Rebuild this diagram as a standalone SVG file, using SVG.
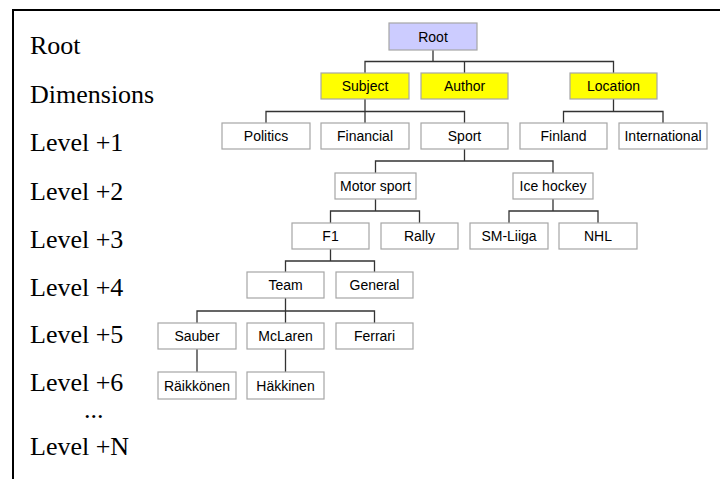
<svg xmlns="http://www.w3.org/2000/svg" width="720" height="479" viewBox="0 0 720 479">
  <style>
    .frame { fill: none; stroke: #000; stroke-width: 2; }
    .lvl { font-family: "Liberation Serif", "Times New Roman", serif; font-size: 26px; fill: #000; }
    .box { fill: #fff; stroke: #a6a6a6; stroke-width: 1.2; }
    .root { fill: #ccccff; }
    .dim { fill: #ffff00; }
    .lbl { font-family: "Liberation Sans", Arial, sans-serif; font-size: 14px; fill: #000; text-anchor: middle; }
    .links path { fill: none; stroke: #333; stroke-width: 1.3; }
  </style>
  <rect width="720" height="479" fill="#fff"/>
  <rect class="frame" x="13" y="10" width="720" height="480"/>

  <!-- level captions -->
  <g id="levels">
    <text class="lvl" x="30" y="54">Root</text>
    <text class="lvl" x="30" y="102.5">Dimensions</text>
    <text class="lvl" x="30" y="151">Level +1</text>
    <text class="lvl" x="30" y="199.5">Level +2</text>
    <text class="lvl" x="30" y="247.5">Level +3</text>
    <text class="lvl" x="30" y="295.5">Level +4</text>
    <text class="lvl" x="30" y="343">Level +5</text>
    <text class="lvl" x="30" y="391">Level +6</text>
    <text class="lvl" x="84" y="418">...</text>
    <text class="lvl" x="30" y="455">Level +N</text>
  </g>

  <!-- tree connectors -->
  <g class="links" id="connectors">
    <path d="M433 50V61.5M365 73V61.5H613.5V73M464.5 61.5V73"/>
    <path d="M365 99V111.5M266 123V111.5H464.5V123M365 111.5V123"/>
    <path d="M613.5 99V111.5M563.5 123V111.5H663V123"/>
    <path d="M464.5 149V161M375.5 173V161H553V173"/>
    <path d="M375.5 199V211M330.5 223V211H419.5V223"/>
    <path d="M553 199V211M509 223V211H598V223"/>
    <path d="M330.5 249V261M285.5 272V261H374.5V272"/>
    <path d="M285.5 298V311M197 323V311H374.5V323M285.5 311V323"/>
    <path d="M197 349V372M285.5 349V372"/>
  </g>

  <!-- nodes -->
  <g id="n-root"><rect class="box root" x="389" y="23" width="88" height="27"/><text class="lbl" x="433" y="41.5">Root</text></g>

  <g id="n-subject"><rect class="box dim" x="321" y="73" width="88" height="26"/><text class="lbl" x="365" y="91">Subject</text></g>
  <g id="n-author"><rect class="box dim" x="421" y="73" width="87" height="26"/><text class="lbl" x="464.5" y="91">Author</text></g>
  <g id="n-location"><rect class="box dim" x="570" y="73" width="87" height="26"/><text class="lbl" x="613.5" y="91">Location</text></g>

  <g id="n-politics"><rect class="box" x="222" y="123" width="88" height="26"/><text class="lbl" x="266" y="141">Politics</text></g>
  <g id="n-financial"><rect class="box" x="321" y="123" width="88" height="26"/><text class="lbl" x="365" y="141">Financial</text></g>
  <g id="n-sport"><rect class="box" x="421" y="123" width="87" height="26"/><text class="lbl" x="464.5" y="141">Sport</text></g>
  <g id="n-finland"><rect class="box" x="520" y="123" width="87" height="26"/><text class="lbl" x="563.5" y="141">Finland</text></g>
  <g id="n-international"><rect class="box" x="619" y="123" width="88" height="26"/><text class="lbl" x="663" y="141">International</text></g>

  <g id="n-motorsport"><rect class="box" x="335" y="173" width="81" height="26"/><text class="lbl" x="375.5" y="191">Motor sport</text></g>
  <g id="n-icehockey"><rect class="box" x="513" y="173" width="80" height="26"/><text class="lbl" x="553" y="191">Ice hockey</text></g>

  <g id="n-f1"><rect class="box" x="292" y="223" width="77" height="26"/><text class="lbl" x="330.5" y="241">F1</text></g>
  <g id="n-rally"><rect class="box" x="381" y="223" width="77" height="26"/><text class="lbl" x="419.5" y="241">Rally</text></g>
  <g id="n-smliiga"><rect class="box" x="470" y="223" width="78" height="26"/><text class="lbl" x="509" y="241">SM-Liiga</text></g>
  <g id="n-nhl"><rect class="box" x="559" y="223" width="78" height="26"/><text class="lbl" x="598" y="241">NHL</text></g>

  <g id="n-team"><rect class="box" x="247" y="272" width="77" height="26"/><text class="lbl" x="285.5" y="290">Team</text></g>
  <g id="n-general"><rect class="box" x="336" y="272" width="77" height="26"/><text class="lbl" x="374.5" y="290">General</text></g>

  <g id="n-sauber"><rect class="box" x="158" y="323" width="78" height="26"/><text class="lbl" x="197" y="341">Sauber</text></g>
  <g id="n-mclaren"><rect class="box" x="247" y="323" width="77" height="26"/><text class="lbl" x="285.5" y="341">McLaren</text></g>
  <g id="n-ferrari"><rect class="box" x="336" y="323" width="77" height="26"/><text class="lbl" x="374.5" y="341">Ferrari</text></g>

  <g id="n-raikkonen"><rect class="box" x="158" y="372" width="78" height="27"/><text class="lbl" x="197" y="390.5">Räikkönen</text></g>
  <g id="n-hakkinen"><rect class="box" x="247" y="372" width="77" height="27"/><text class="lbl" x="285.5" y="390.5">Häkkinen</text></g>
</svg>
